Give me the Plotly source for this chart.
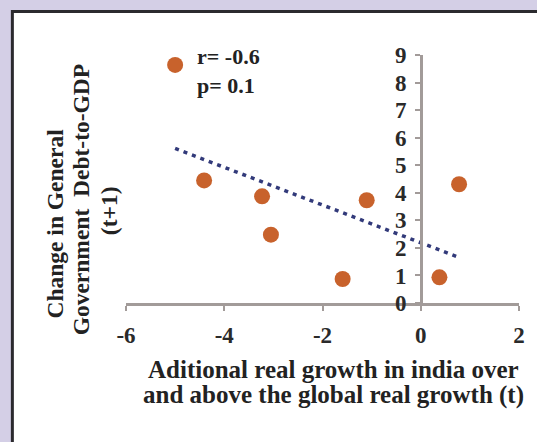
import numpy as np
import plotly.graph_objects as go

# growth gap (t) vs change in debt-to-GDP (t+1)
growth_gap = [-5.0, -4.41, -3.23, -3.05, -1.59, -1.10, 0.38, 0.78]
debt_change = [8.64, 4.45, 3.87, 2.48, 0.87, 3.73, 0.93, 4.31]
x_ticks = [-6, -4, -2, 0, 2]
y_ticks = [0, 1, 2, 3, 4, 5, 6, 7, 8, 9]
stats_text = "r= -0.6<br>p= 0.1"
y_title = ["Change in General", "Government  Debt-to-GDP", "(t+1)"]
x_title = ["Aditional real growth in india over",
           "and above the global real growth (t)"]

# linear fit over the data range
slope, intercept = np.polyfit(growth_gap, debt_change, 1)
fit_x = np.array([min(growth_gap), max(growth_gap)])
fit_y = slope * fit_x + intercept

W, H = 537, 442
L, R, T, B = 126, 15, 55, 139
pw, ph = W - L - R, H - T - B


def fx(p):
    return (p - L) / pw


def fy(p):
    return (H - B - p) / ph


FONT = "Liberation Serif"
AXIS = "#a29b99"
TXT = "#222222"

fig = go.Figure()

fig.add_trace(go.Scatter(
    x=fit_x, y=fit_y, mode="lines",
    line=dict(color="#323a7a", width=3.5, dash="4px,5px"),
    hoverinfo="skip"
))

fig.add_trace(go.Scatter(
    x=growth_gap, y=debt_change, mode="markers",
    marker=dict(color="#c8622c", size=16)
))

tickfont = dict(family=FONT, size=23, color="#2a2a2a", weight=700)

# title lines placed one by one (tight line spacing in the original)
notes = [dict(text=stats_text, xref="paper", yref="paper",
              x=fx(196), y=fy(42), xanchor="left", yanchor="top",
              align="left", showarrow=False,
              font=dict(family=FONT, size=22, color=TXT, weight=700))]
for txt, cx, cy in zip(y_title, [54, 81, 109], [224, 199, 211]):
    notes.append(dict(text=txt, xref="paper", yref="paper", x=fx(cx), y=fy(cy),
                      xanchor="center", yanchor="middle", textangle=-90,
                      showarrow=False,
                      font=dict(family=FONT, size=23.5, color=TXT, weight=700)))
for txt, cy in zip(x_title, [370, 395]):
    notes.append(dict(text=txt, xref="paper", yref="paper", x=fx(335), y=fy(cy),
                      xanchor="center", yanchor="middle", showarrow=False,
                      font=dict(family=FONT, size=25, color=TXT, weight=700)))

fig.update_layout(
    width=W, height=H,
    margin=dict(l=L, r=R, t=T, b=B),
    paper_bgcolor="#d4cfe6",
    plot_bgcolor="rgba(0,0,0,0)",
    showlegend=False,
    font=dict(family=FONT, size=21, color=TXT, weight=700),
    xaxis=dict(
        range=[-6, 2], tickvals=x_ticks, ticktext=[str(v) for v in x_ticks],
        showgrid=False, zeroline=False,
        showline=True, linecolor=AXIS, linewidth=2.5,
        ticks="outside", ticklen=5, tickcolor=AXIS, tickwidth=2,
        ticklabelstandoff=5, tickfont=tickfont
    ),
    yaxis=dict(
        range=[0, 9], tickvals=y_ticks, showgrid=False, zeroline=False,
        anchor="free", position=0.75,
        showline=True, linecolor=AXIS, linewidth=2.5,
        ticks="outside", ticklen=5, tickcolor=AXIS, tickwidth=2,
        ticklabelstandoff=4, tickfont=tickfont
    ),
    shapes=[dict(
        type="rect", xref="paper", yref="paper", layer="below",
        x0=fx(11.5), x1=fx(560), y0=fy(11.5), y1=fy(470),
        line=dict(color="#2b2a2e", width=3), fillcolor="white"
    )],
    annotations=notes,
)

fig.write_html("out.html", config={"displayModeBar": False},
               post_script="document.body.style.margin='0';"
                           "document.body.style.overflow='hidden';")
